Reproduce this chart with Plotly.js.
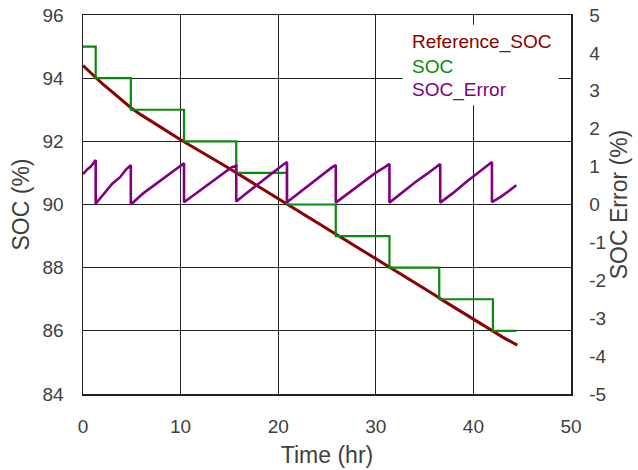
<!DOCTYPE html>
<html>
<head>
<meta charset="utf-8">
<script src="https://cdn.plot.ly/plotly-3.0.1.min.js"></script>
<style>html,body{margin:0;padding:0;background:#fff;}#chart{width:638px;height:470px;}</style>
</head>
<body>
<div id="chart"></div>
<script>
// Reference SOC (%) vs time (hr)
const refTime = [0,0.5,1,1.5,2,2.5,3,3.5,4,4.5,5,6,7,8,9,10,11,12,13,14,15,16,17,18,19,20,21,22,23,24,25,26,27,28,29,30,31,32,33,34,35,36,37,38,39,40,41,42,43,44,44.5];
const refSOC  = [94.40,94.25,94.10,93.97,93.82,93.69,93.56,93.43,93.30,93.17,93.04,92.83,92.63,92.43,92.24,92.05,91.87,91.68,91.50,91.32,91.14,90.95,90.77,90.57,90.38,90.18,89.99,89.80,89.61,89.43,89.24,89.05,88.86,88.68,88.49,88.30,88.11,87.92,87.73,87.54,87.34,87.14,86.94,86.75,86.56,86.37,86.17,85.98,85.80,85.63,85.55];

// Estimated SOC (%) step changes
const socTime = [0,1.3,4.9,10.35,15.7,20.9,25.9,31.4,36.5,42.0,44.4];
const socVal  = [95,94,93,92,91,90,89,88,87,86,86];

// SOC error (%)
const errTime = [0,0.4,0.8,1.2,1.3,
  1.3,2.2,3.0,3.8,4.4,4.9,
  4.9,6.2,7.5,8.8,9.8,10.35,
  10.35,11.6,12.9,14.2,15.2,15.7,
  15.7,17.0,18.2,19.5,20.5,20.9,
  20.9,22.1,23.3,24.5,25.5,25.9,
  25.9,27.2,28.5,29.9,31.0,31.4,
  31.4,32.7,34.0,35.2,36.2,36.6,
  36.6,37.9,39.2,40.5,41.5,41.9,
  41.9,42.8,43.6,44.4];
const errVal = [0.80,0.92,1.00,1.12,1.17,
  0.02,0.30,0.55,0.72,0.92,1.04,
  0.00,0.30,0.55,0.80,1.00,1.09,
  0.06,0.30,0.55,0.78,0.98,1.02,
  0.08,0.35,0.60,0.85,1.05,1.12,
  0.06,0.30,0.55,0.80,0.98,1.04,
  0.05,0.30,0.55,0.82,1.00,1.07,
  0.05,0.32,0.58,0.80,1.00,1.07,
  0.05,0.30,0.58,0.85,1.05,1.12,
  0.06,0.20,0.35,0.51];

// Right axis tick labels (plain hyphen minus, as in the original)
const errTickVals = [-5,-4,-3,-2,-1,0,1,2,3,4,5];
const errTickText = ['-5','-4','-3','-2','-1','0','1','2','3','4','5'];

const seriesNames = ['Reference_SOC','SOC','SOC_Error'];
const colors = ['#8b0000','#0a8a0a','#800080'];

const traces = [
  {x: refTime, y: refSOC, name: seriesNames[0], mode: 'lines', line: {color: colors[0], width: 3}, yaxis: 'y'},
  {x: socTime, y: socVal, name: seriesNames[1], mode: 'lines', line: {color: colors[1], width: 2.2, shape: 'hv'}, yaxis: 'y'},
  {x: errTime, y: errVal, name: seriesNames[2], mode: 'lines', line: {color: colors[2], width: 2.6}, yaxis: 'y2'}
];

const fam = 'Liberation Sans, Arial, sans-serif';
const tickFont = {family: fam, size: 19, color: '#404040'};
const titleFont = {family: fam, size: 23, color: '#404040'};

const legendX = 0.67;
const legendY = [0.929, 0.863, 0.802];

const layout = {
  width: 638, height: 470,
  margin: {l: 83, r: 67, t: 15, b: 76},
  paper_bgcolor: '#fff', plot_bgcolor: '#fff',
  showlegend: false,
  xaxis: {
    range: [0, 50], dtick: 10, tick0: 0,
    showgrid: true, gridcolor: '#222', gridwidth: 1.3,
    showline: true, linecolor: '#222', linewidth: 1.5, mirror: true,
    zeroline: false, ticks: '', tickfont: tickFont, ticklabelstandoff: 15,
    title: {text: 'Time (hr)', font: titleFont, standoff: 10},
    automargin: false
  },
  yaxis: {
    range: [84, 96], dtick: 2, tick0: 84,
    showgrid: true, gridcolor: '#222', gridwidth: 1.3,
    showline: true, linecolor: '#222', linewidth: 1.5, mirror: true,
    zeroline: false, ticks: '', tickfont: tickFont, ticklabelstandoff: 14,
    title: {text: 'SOC (%)', font: titleFont, standoff: 6},
    automargin: false
  },
  yaxis2: {
    range: [-5, 5], tickmode: 'array', tickvals: errTickVals, ticktext: errTickText,
    overlaying: 'y', side: 'right',
    showgrid: false, zeroline: false,
    showline: true, linecolor: '#222', linewidth: 1.5,
    ticks: '', tickfont: tickFont, ticklabelstandoff: 13,
    title: {text: 'SOC Error (%)', font: titleFont, standoff: 4},
    automargin: false
  },
  shapes: [{
    type: 'rect', xref: 'paper', yref: 'paper', layer: 'above',
    x0: 0.655, x1: 0.975, y0: 0.762, y1: 0.974,
    fillcolor: '#fff', line: {width: 0}
  }],
  annotations: seriesNames.map((n, i) => ({
    text: n, xref: 'paper', yref: 'paper', x: legendX, y: legendY[i],
    xanchor: 'left', yanchor: 'middle', showarrow: false,
    font: {family: fam, size: 19, color: colors[i]}
  }))
};

Plotly.newPlot('chart', traces, layout, {staticPlot: true, displayModeBar: false});
</script>
</body>
</html>
